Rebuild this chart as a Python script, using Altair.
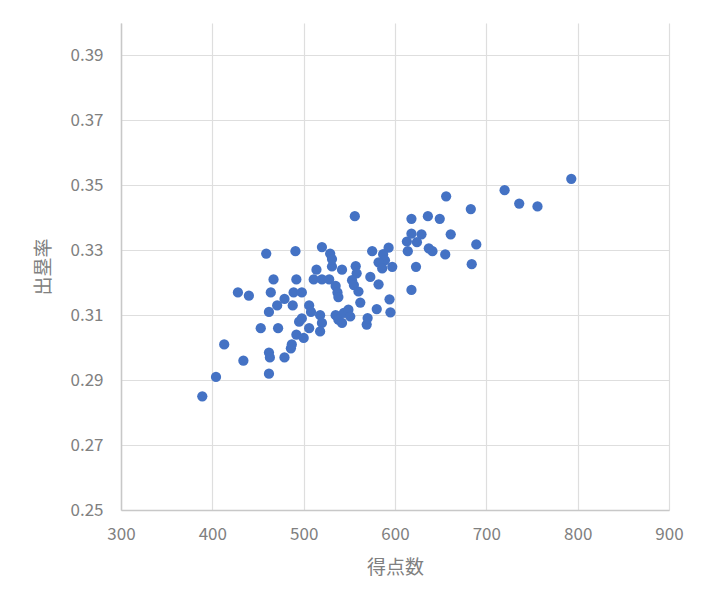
import altair as alt
import pandas as pd

runs = [389, 404, 413, 434, 428, 440, 453, 459, 462, 462, 463, 462, 464, 467, 472, 479, 479, 471,
        486, 487, 488, 489, 491, 492, 492, 498, 500, 495, 498, 506, 508, 506, 511, 514, 520, 528,
        520, 529, 531, 542, 535, 537, 538, 518, 520, 518, 535, 538, 544, 549, 551, 542, 557, 558,
        553, 555, 560, 562, 569, 570, 580, 595, 594, 582, 573, 575, 593, 587, 589, 582, 597, 586,
        556, 613, 618, 629, 624, 614, 637, 641, 623, 618, 618, 636, 649, 661, 656, 655, 689, 684,
        683, 720, 736, 756, 793, 531]
obp = [0.285, 0.291, 0.301, 0.296, 0.317, 0.316, 0.306, 0.329, 0.311, 0.2985, 0.297, 0.292, 0.317,
       0.321, 0.306, 0.315, 0.297, 0.313, 0.2998, 0.301, 0.313, 0.317, 0.3297, 0.321, 0.304, 0.317,
       0.303, 0.308, 0.309, 0.313, 0.311, 0.306, 0.321, 0.324, 0.321, 0.321, 0.331, 0.329, 0.325,
       0.324, 0.319, 0.317, 0.3156, 0.310, 0.3076, 0.305, 0.310, 0.3086, 0.3107, 0.3117, 0.3096,
       0.3076, 0.3251, 0.3229, 0.3208, 0.3193, 0.3173, 0.3139, 0.3071, 0.3091, 0.3119, 0.3109,
       0.3149, 0.3195, 0.3218, 0.3297, 0.3308, 0.3288, 0.3269, 0.3263, 0.3249, 0.3244, 0.3405,
       0.3327, 0.3351, 0.3349, 0.3325, 0.3297, 0.3306, 0.3297, 0.3249, 0.3178, 0.3397, 0.3405,
       0.3397, 0.3349, 0.3466, 0.3287, 0.3318, 0.3257, 0.3427, 0.3485, 0.3444, 0.3435, 0.352,
       0.3273]

x_ticks = [300, 400, 500, 600, 700, 800, 900]
y_ticks = [0.25, 0.27, 0.29, 0.31, 0.33, 0.35, 0.37, 0.39]

df = pd.DataFrame({"得点数": runs, "出塁率": obp})

font = "Noto Sans CJK JP"

chart = alt.Chart(df).mark_circle(size=105, opacity=1, color="#4472C4").encode(
    x=alt.X("得点数:Q",
            scale=alt.Scale(domain=[300, 900], nice=False, zero=False),
            axis=alt.Axis(values=x_ticks, title="得点数", format="d",
                          labelFontSize=17, labelColor="#808080", labelFont=font,
                          labelFlush=False, labelOverlap=False,
                          labelPadding=16, titleFontSize=19, titleFont=font,
                          titleColor="#808080", titleFontWeight="normal", titlePadding=16,
                          ticks=False, domainColor="#c8c8c8", domainWidth=1.5,
                          gridColor="#dedede", gridWidth=1.2)),
    y=alt.Y("出塁率:Q",
            scale=alt.Scale(domain=[0.25, 0.40], nice=False, zero=False),
            axis=alt.Axis(values=y_ticks, title="出塁率", format=".2f",
                          labelFontSize=17, labelColor="#808080", labelFont=font,
                          labelFlush=False, labelOverlap=False,
                          labelPadding=18, titleFontSize=19, titleFont=font,
                          titleColor="#808080", titleFontWeight="normal", titlePadding=16,
                          ticks=False, domainColor="#c8c8c8", domainWidth=1.5,
                          gridColor="#dedede", gridWidth=1.2)),
).properties(
    width=548, height=487,
    autosize=alt.AutoSizeParams(type="none"),
    padding={"left": 113, "top": 15, "right": 20, "bottom": 80},
    background="white",
).configure_view(stroke=None)

chart.save("out.html", embed_options={"renderer": "svg", "actions": False})
